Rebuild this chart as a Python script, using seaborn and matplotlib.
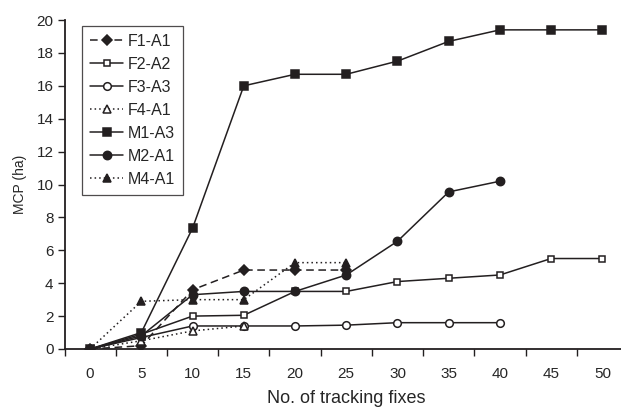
import numpy as np
import matplotlib
matplotlib.use("Agg")
import matplotlib.pyplot as plt
import seaborn as sns
from matplotlib.ticker import FixedLocator

fixes = [0, 5, 10, 15, 20, 25, 30, 35, 40, 45, 50]

f1_a1 = [0, 0.2, 3.6, 4.8, 4.8, 4.8]
f2_a2 = [0, 0.9, 2.0, 2.05, 3.5, 3.5, 4.1, 4.3, 4.5, 5.5, 5.5]
f3_a3 = [0, 0.7, 1.4, 1.4, 1.4, 1.45, 1.6, 1.6, 1.6]
f4_a1 = [0, 0.5, 1.1, 1.4]
m1_a3 = [0, 1.0, 7.35, 16.0, 16.7, 16.7, 17.5, 18.7, 19.4, 19.4, 19.4]
m2_a1 = [0, 0.8, 3.3, 3.5, 3.5, 4.5, 6.55, 9.55, 10.2]
m4_a1 = [0, 2.9, 3.0, 3.0, 5.25, 5.25]

series = {
    "F1-A1": f1_a1,
    "F2-A2": f2_a2,
    "F3-A3": f3_a3,
    "F4-A1": f4_a1,
    "M1-A3": m1_a3,
    "M2-A1": m2_a1,
    "M4-A1": m4_a1,
}

# marker, fill, line dash, marker size
styles = {
    "F1-A1": ("D", True, (5, 3), 5.5),
    "F2-A2": ("s", False, "", 4.5),
    "F3-A3": ("o", False, "", 5.5),
    "F4-A1": ("^", False, (1, 2), 5.5),
    "M1-A3": ("s", True, "", 6),
    "M2-A1": ("o", True, "", 6),
    "M4-A1": ("^", True, (1, 2), 6),
}

sns.set_style("white")
plt.rcParams["font.family"] = ["Liberation Sans", "DejaVu Sans"]

fig = plt.figure(figsize=(6.21, 4.08), dpi=100)
ax = fig.add_axes([64.5 / 621, 59 / 408, 563.5 / 621, 329 / 408])

ink = "#231f20"
for name, vals in series.items():
    marker, filled, dash, ms = styles[name]
    idx = np.arange(len(vals))
    sns.lineplot(x=idx, y=vals, ax=ax, color=ink, linewidth=1.1,
                 marker=marker, markersize=ms,
                 markerfacecolor=ink if filled else "white",
                 markeredgecolor=ink, markeredgewidth=1.1,
                 dashes=False, label=name)
    line = ax.get_lines()[-1]
    if dash:
        line.set_dashes(dash)

ax.set_xlim(-0.5, 10.5)
ax.set_ylim(0, 20)
ax.set_yticks(np.arange(0, 21, 2))
ax.set_xticks(np.arange(len(fixes)))
ax.set_xticklabels([str(f) for f in fixes])
ax.xaxis.set_minor_locator(FixedLocator(np.arange(-0.5, 11, 1)))
ax.tick_params(axis="x", which="major", length=0, pad=13, labelsize=11)
ax.tick_params(axis="x", which="minor", length=5, width=1, direction="out",
               color=ink, bottom=True)
ax.tick_params(axis="y", length=5, width=1, direction="out", color=ink,
               labelsize=11, pad=3, left=True)

for s in ["top", "right"]:
    ax.spines[s].set_visible(False)
for s in ["left", "bottom"]:
    ax.spines[s].set_color(ink)
    ax.spines[s].set_linewidth(1.3)

ax.set_xlabel("No. of tracking fixes", fontsize=13)
ax.xaxis.set_label_coords(0.5, -0.125)
ax.set_ylabel("MCP (ha)", fontsize=10)
ax.yaxis.set_label_coords(-0.067, 0.5)

leg = ax.legend(loc="upper left", bbox_to_anchor=(0.031, 0.982),
                borderaxespad=0, fancybox=False, frameon=True,
                fontsize=11.5, handlelength=2.1, labelspacing=0.5,
                borderpad=0.5, handletextpad=0.25)
leg.get_frame().set_edgecolor(ink)
leg.get_frame().set_linewidth(0.9)

fig.savefig("out.png", dpi=100)
